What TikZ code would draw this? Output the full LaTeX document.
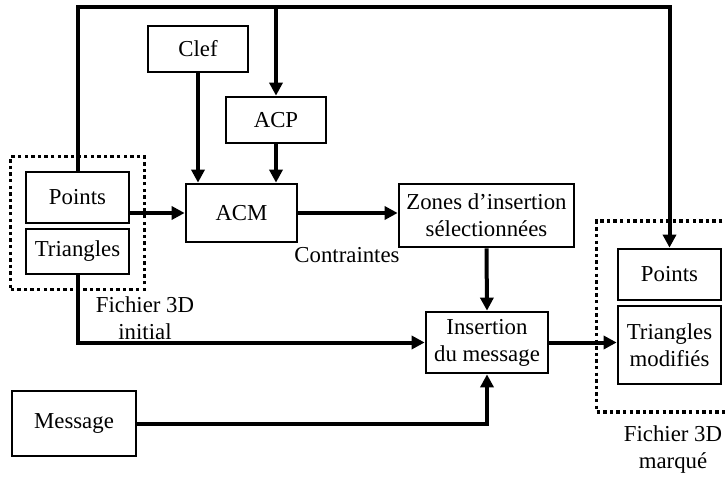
\documentclass[tikz,border=0pt]{standalone}
\usepackage{fontspec}
\setmainfont{Liberation Serif}
\usepackage{tikz}
\usetikzlibrary{fit,calc,arrows.meta}
\newcommand\bloc[5]{\node[bloc,minimum width=#3pt,minimum height=#4pt] (#1) at (#2) {#5};}
\newcommand\flux[2]{\draw[flux] (#1) -- (#2);}

\begin{document}
\begin{tikzpicture}[x=1pt,y=-1pt,font=\fontsize{22.8}{27}\selectfont]
\tikzstyle{bloc}=[draw,line width=2.7pt,align=center,inner sep=0pt]
\tikzstyle{flux}=[line width=4pt,-{Triangle[length=13pt,width=13pt]}]
\tikzstyle{fichier}=[draw,line width=3.4pt,dash pattern=on 3.4pt off 3.2pt]
\tikzstyle{legende}=[align=center,inner sep=0pt]
\useasboundingbox (0,0) rectangle (725,478);
\bloc{clef}{198,49}{100}{46}{Clef}
\bloc{acp}{276,120}{100}{46}{ACP}
\bloc{acm}{241.5,213}{111}{58}{ACM}
\bloc{pts1}{77.5,197.5}{103}{51}{Points}
\bloc{tri1}{77.5,251.5}{103}{45}{Triangles}
\bloc{zones}{486.5,215.5}{175}{63}{Zones d’insertion\\sélectionnées}
\bloc{ins}{487,342.5}{122}{61}{Insertion\\du message}
\bloc{msg}{74,423.5}{124}{65}{Message}
\bloc{pts2}{669.5,274.5}{103}{51}{Points}
\bloc{tri2}{669.5,345}{103}{78}{Triangles\\modifiés}
\node[fichier,fit=(pts1)(tri1),inner sep=14pt] (f1) {};
\node[fichier,fit=(pts2)(tri2),inner xsep=20pt,inner ysep=26.5pt] (f2) {};
\node[legende] (c1) at (347,255) {Contraintes};
\node[legende] (l1) at (145,318) {Fichier 3D\\initial};
\node[legende] (l2) at (673,450) {Fichier 3D\\marqué};
\coordinate (haut) at (0,7);
\draw[flux] (pts1.north) |- (pts2.north |- haut) -- (pts2.north);
\flux{acp.north |- haut}{acp.north}
\flux{clef.south}{clef.south |- acm.north}
\flux{acp.south}{acp.south |- acm.north}
\flux{pts1.east |- acm.west}{acm.west}
\flux{acm.east}{zones.west |- acm.east}
\flux{zones.south}{ins.north}
\draw[flux] (tri1.south) |- (ins.west);
\draw[flux] (msg.east) -| (ins.south);
\flux{ins.east}{tri2.west |- ins.east}
\end{tikzpicture}
\end{document}
